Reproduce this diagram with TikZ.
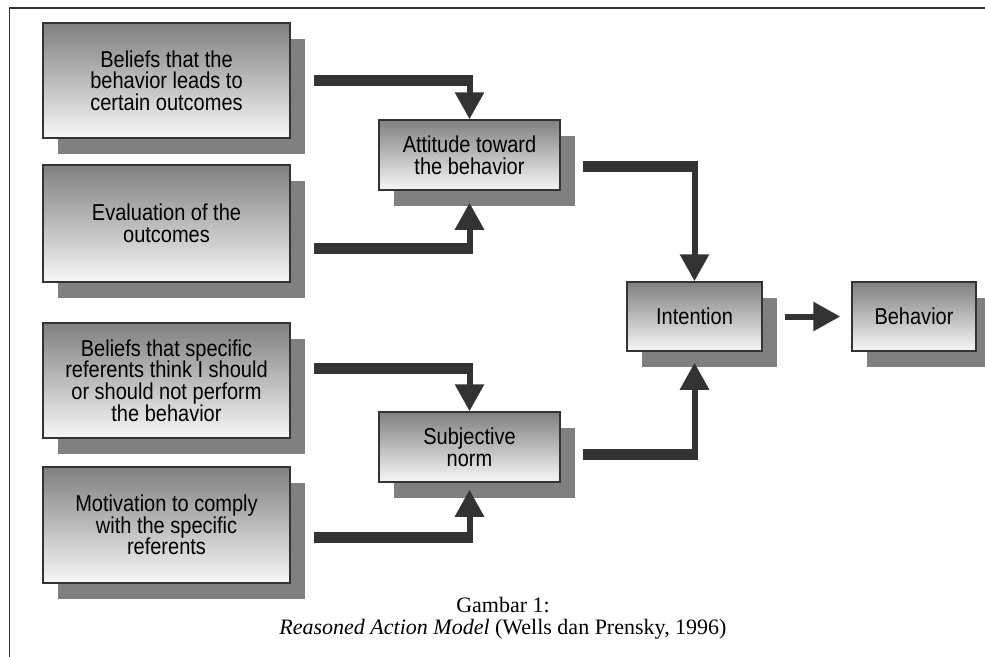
\documentclass[tikz,border=0pt]{standalone}
\usepackage{fontspec}
\setmainfont{Liberation Serif}
\newfontfamily\boxfont[FakeStretch=0.87]{Liberation Sans}
\usetikzlibrary{arrows.meta,shadows}
\definecolor{bardark}{HTML}{333333}
\begin{document}
\begin{tikzpicture}[x=1pt,y=-1pt,
	factor/.style={draw=bardark,line width=1.5pt,top color=black!50,bottom color=white!97!black,
		drop shadow={shadow xshift=15pt,shadow yshift=-16pt,fill=black!50,opacity=1},
		align=center,inner sep=2pt,font=\boxfont\fontsize{23}{21.7}\selectfont},
	feed/.style={bardark,line width=11pt},
	pointer/.style={bardark,line width=6pt,-{Triangle[width=28pt,length=27pt]}}]
		\useasboundingbox (0,0) rectangle (985,656);
		\draw[line width=1.5pt,bardark] (995,8) -- (9.5,8) -- (9.5,665);
		\node[factor,minimum width=247pt,minimum height=115pt] (b1) at (166.5,80.5) {Beliefs that the\\behavior leads to\\certain outcomes};
		\node[factor,minimum width=247pt,minimum height=117pt] (b2) at (166.5,223.5) {Evaluation of the\\outcomes};
		\node[factor,minimum width=247pt,minimum height=115pt] (b3) at (166.5,380.5) {Beliefs that specific\\referents think I should\\or should not perform\\the behavior};
		\node[factor,minimum width=247pt,minimum height=116pt] (b4) at (166.5,525) {Motivation to comply\\with the specific\\referents};
		\node[factor,minimum width=181pt,minimum height=70pt] (att) at (469.5,155) {Attitude toward\\the behavior};
		\node[factor,minimum width=181pt,minimum height=70pt] (sub) at (469.5,447) {Subjective\\norm};
		\node[factor,minimum width=135pt,minimum height=69pt] (int) at (694.5,316.5) {Intention};
		\node[factor,minimum width=124pt,minimum height=69pt] (beh) at (914,316.5) {Behavior};
		\draw[feed] ([xshift=23pt]b1.east) -- ([xshift=3pt]b1.east -| att.north);
		\draw[pointer] (b1.east -| att.north) -- (att.north);
		\draw[feed] ([xshift=23pt,yshift=-24.5pt]b2.east) -- ([xshift=3pt,yshift=-24.5pt]b2.east -| att.south);
		\draw[pointer] ([yshift=-24.5pt]b2.east -| att.south) -- ([yshift=-12pt]att.south);
		\draw[feed] ([xshift=23pt,yshift=12.5pt]b3.east) -- ([xshift=3pt,yshift=12.5pt]b3.east -| sub.north);
		\draw[pointer] ([yshift=12.5pt]b3.east -| sub.north) -- (sub.north);
		\draw[feed] ([xshift=23pt,yshift=-12.5pt]b4.east) -- ([xshift=3pt,yshift=-12.5pt]b4.east -| sub.south);
		\draw[pointer] ([yshift=-12.5pt]b4.east -| sub.south) -- ([yshift=-7pt]sub.south);
		\draw[feed] ([xshift=22pt,yshift=-11pt]att.east) -- ([xshift=3pt,yshift=-11pt]att.east -| int.north);
		\draw[pointer] ([yshift=-11pt]att.east -| int.north) -- (int.north);
		\draw[feed] ([xshift=22pt,yshift=-7pt]sub.east) -- ([xshift=3pt,yshift=-7pt]sub.east -| int.south);
		\draw[pointer] ([yshift=-7pt]sub.east -| int.south) -- ([yshift=-11pt]int.south);
		\draw[pointer] ([xshift=22pt]int.east) -- ([xshift=-11pt]beh.west);
		\node[align=center,font=\fontsize{22}{22.5}\selectfont] (cap) at (503,618) {Gambar 1:\\\textit{Reasoned Action Model} (Wells dan Prensky, 1996)};
	\end{tikzpicture}
\end{document}
